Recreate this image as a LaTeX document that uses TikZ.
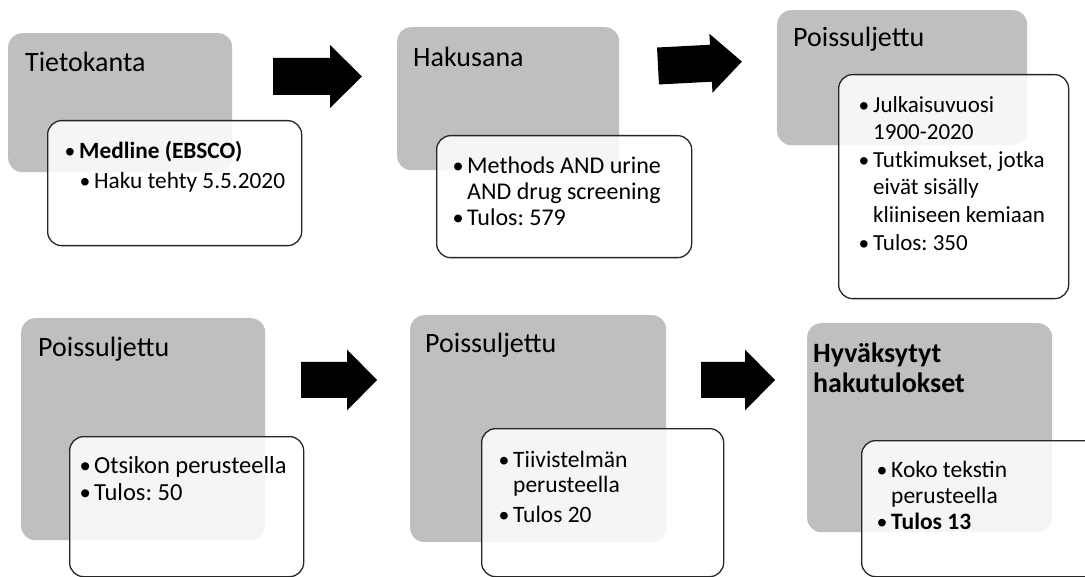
\documentclass[tikz,border=0pt]{standalone}
\usepackage{graphicx}
\usepackage{fontspec}
\setmainfont{Carlito}
\newfontfamily\bulfont{Liberation Sans}
\frenchspacing
\definecolor{boxgray}{RGB}{191,191,191}
\definecolor{edgegray}{RGB}{38,38,38}
\newcommand{\bul}{\makebox[14pt][l]{\raisebox{-3.3pt}{\scalebox{1.2}{\bulfont\textbullet}}}}
\newcommand{\firstline}{\rule{0pt}{18pt}}
\tikzset{
  graybox/.style={fill=boxgray, draw=none, rounded corners=14pt, anchor=north west, inner sep=0pt},
  whitebox/.style={fill=white, fill opacity=0.85, draw=edgegray, line width=1.3pt, rounded corners=14pt, anchor=north west, inner sep=0pt},
  headtext/.style={anchor=base west, inner sep=0pt, font=\fontsize{28}{32}\selectfont},
  bodytext/.style={anchor=north west, inner sep=0pt, align=left},
  blockarrow/.style={fill=black},
}
\begin{document}
\begin{tikzpicture}[x=1pt, y=-1pt]
\clip (0,0) rectangle (1085,577);
\fill[white] (0,0) rectangle (1085,577);

% ---- top row ----
\node[graybox, minimum width=224pt, minimum height=139pt] (g1) at (8,33) {};
\node[whitebox, minimum width=254pt, minimum height=125pt] (w1) at (47,120) {};
\node[headtext] (h1) at (25,72) {Tietokanta};
\node[bodytext, font=\fontsize{23.3}{30}\selectfont] (t1) at (65,140)
  {\firstline\bul\textbf{Medline (EBSCO)}\\
   \hspace*{15pt}\bul Haku tehty 5.5.2020};

\node[graybox, minimum width=222pt, minimum height=143pt] (g2) at (397,27) {};
\node[whitebox, minimum width=255pt, minimum height=122pt] (w2) at (436,135) {};
\node[headtext] (h2) at (413,67) {Hakusana};
\node[bodytext, font=\fontsize{24}{26}\selectfont] (t2) at (453,155)
  {\firstline\bul Methods AND urine\\
   \hspace*{14pt}AND drug screening\\
   \bul Tulos: 579};

\node[graybox, minimum width=250pt, minimum height=135pt] (g3) at (777,10) {};
\node[whitebox, minimum width=230pt, minimum height=224pt] (w3) at (838,74) {};
\node[headtext] (h3) at (793,47) {Poissuljettu};
\node[bodytext, font=\fontsize{23}{27.6}\selectfont] (t3) at (859,94)
  {\firstline\bul Julkaisuvuosi\\
   \hspace*{14pt}1900-2020\\
   \bul Tutkimukset, jotka\\
   \hspace*{14pt}eivät sisälly\\
   \hspace*{14pt}kliiniseen kemiaan\\
   \bul Tulos: 350};

% ---- bottom row ----
\node[graybox, minimum width=244pt, minimum height=222pt] (g4) at (21,318) {};
\node[whitebox, minimum width=234pt, minimum height=140pt] (w4) at (69,436) {};
\node[headtext] (h4) at (38,357) {Poissuljettu};
\node[bodytext, font=\fontsize{24.5}{27}\selectfont] (t4) at (80,455)
  {\firstline\bul Otsikon perusteella\\
   \bul Tulos: 50};

\node[graybox, minimum width=256pt, minimum height=227pt] (g5) at (410,315) {};
\node[whitebox, minimum width=242pt, minimum height=148pt] (w5) at (481,428) {};
\node[headtext] (h5) at (425,353) {Poissuljettu};
\node[bodytext, font=\fontsize{23.5}{25.5}\selectfont] (t5) at (499,449)
  {\firstline\bul Tiivistelmän\\
   \hspace*{14pt}perusteella\\[4pt]
   \bul Tulos 20};

\node[graybox, minimum width=245pt, minimum height=209pt] (g6) at (807,323) {};
\node[whitebox, minimum width=240pt, minimum height=136pt] (w6) at (861,440) {};
\node[bodytext, font=\fontsize{28}{30}\bfseries] (h6) at (813,342)
  {\rule{0pt}{20pt}Hyväksytyt\\ hakutulokset};
\node[bodytext, font=\fontsize{23.5}{26}\selectfont] (t6) at (877,459)
  {\firstline\bul Koko tekstin\\
   \hspace*{14pt}perusteella\\
   \bul\textbf{Tulos 13}};

% ---- block arrows ----
\coordinate (a1) at (273,76.5);
\fill[blockarrow] ([shift={(0,-18.5)}]a1) -- ++(57,0) -- ++(0,-13) -- ++(32,31.5)
  -- ++(-32,31.5) -- ++(0,-13) -- ++(-57,0) -- cycle;
\coordinate (a2) at (658,66);
\fill[blockarrow, rotate around={3:(a2)}] ([shift={(0,-18.5)}]a2) -- ++(53,0) -- ++(0,-11) -- ++(31,29.5)
  -- ++(-31,29.5) -- ++(0,-11) -- ++(-53,0) -- cycle;
\coordinate (a3) at (301,380);
\fill[blockarrow] ([shift={(0,-18)}]a3) -- ++(46,0) -- ++(0,-12.5) -- ++(30,30.5)
  -- ++(-30,30.5) -- ++(0,-12.5) -- ++(-46,0) -- cycle;
\coordinate (a4) at (701,380);
\fill[blockarrow] ([shift={(0,-18)}]a4) -- ++(44,0) -- ++(0,-12.5) -- ++(30,30.5)
  -- ++(-30,30.5) -- ++(0,-12.5) -- ++(-44,0) -- cycle;
\end{tikzpicture}
\end{document}
